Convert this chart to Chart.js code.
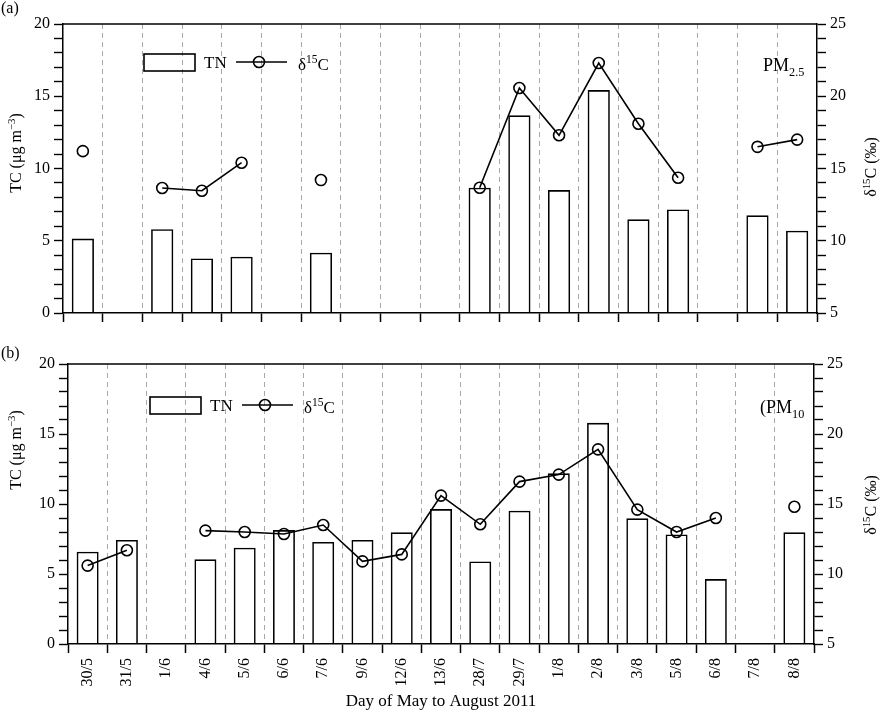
<!DOCTYPE html>
<html>
<head>
<meta charset="utf-8">
<script src="https://cdn.jsdelivr.net/npm/chart.js@4.4.0/dist/chart.umd.min.js"></script>
<style>
  html, body { margin: 0; padding: 0; background: #fff; }
  #wrap { width: 880px; height: 712px; position: relative; }
  .panel { position: absolute; left: 0; width: 880px; }
  #pa { top: 0; height: 336px; }
  #pb { top: 336px; height: 376px; }
</style>
</head>
<body>
<div id="wrap">
  <div class="panel" id="pa"><canvas id="chartA"></canvas></div>
  <div class="panel" id="pb"><canvas id="chartB"></canvas></div>
</div>
<script>
const days = ['30/5', '31/5', '1/6', '4/6', '5/6', '6/6', '7/6', '9/6', '12/6', '13/6',
  '28/7', '29/7', '1/8', '2/8', '3/8', '5/8', '6/8', '7/8', '8/8'];

// panel (a) PM2.5
const tnPM25 = [5.15, null, 5.8, 3.78, 3.9, null, 4.17, null, null, null,
  8.67, 13.68, 8.51, 15.43, 6.48, 7.17, null, 6.76, 5.7];
const d15cPM25 = [16.2, null, 13.65, 13.46, 15.4, null, 14.2, null, null, null,
  13.67, 20.57, 17.3, 22.3, 18.1, 14.36, null, 16.5, 17.0];

// panel (b) PM10
const tnPM10 = [6.59, 7.43, null, 6.05, 6.88, 8.14, 7.29, 7.43, 7.98, 9.64,
  5.9, 9.52, 12.19, 15.8, 8.98, 7.83, 4.64, null, 7.98];
const d15cPM10 = [10.6, 11.7, null, 13.1, 13.0, 12.86, 13.5, 10.9, 11.4, 15.6,
  13.55, 16.6, 17.1, 18.9, 14.6, 13.0, 14.0, null, 14.8];

const tcTickLabels = [0, 5, 10, 15, 20];
const d15cTickLabels = [5, 10, 15, 20, 25];

const SERIF = '"Liberation Serif", "DejaVu Serif", serif';
Chart.defaults.font.family = SERIF;
Chart.defaults.color = '#000';

// parts: [text, mode] with mode 0 normal, 1 superscript, -1 subscript
function drawRich(ctx, parts, x, y, size, align) {
  const small = size * 0.68;
  let w = 0;
  parts.forEach(([t, m]) => {
    ctx.font = (m ? small : size) + 'px ' + SERIF;
    w += ctx.measureText(t).width;
  });
  let cx = align === 'center' ? x - w / 2 : x;
  parts.forEach(([t, m]) => {
    ctx.font = (m ? small : size) + 'px ' + SERIF;
    const dy = m === 1 ? -size * 0.4 : m === -1 ? size * 0.25 : 0;
    ctx.fillText(t, cx, y + dy);
    cx += ctx.measureText(t).width;
  });
}

const decoPlugin = {
  id: 'deco',
  afterDraw(chart, args, opts) {
    const ctx = chart.ctx;
    const area = chart.chartArea;
    const line = chart.data.datasets[0];
    const bar = chart.data.datasets[1];
    ctx.save();
    ctx.textBaseline = 'alphabetic';
    ctx.textAlign = 'left';
    ctx.fillStyle = '#000';

    // top frame
    ctx.strokeStyle = '#000';
    ctx.lineWidth = 1.5;
    ctx.beginPath();
    ctx.moveTo(area.left, area.top);
    ctx.lineTo(area.right, area.top);
    ctx.stroke();

    // panel letter
    drawRich(ctx, [[opts.panel, 0]], 1, opts.panelY, 16, 'left');

    // axis titles, reading bottom to top
    ctx.save();
    ctx.translate(21, opts.leftTitleY);
    ctx.rotate(-Math.PI / 2);
    drawRich(ctx, [['TC (μg m', 0], ['−3', 1], [')', 0]], 0, 0, 16, 'center');
    ctx.restore();
    ctx.save();
    ctx.translate(876, opts.rightTitleY);
    ctx.rotate(-Math.PI / 2);
    drawRich(ctx, [['δ', 0], ['15', 1], ['C (‰)', 0]], 0, 0, 16, 'center');
    ctx.restore();

    // legend
    const lx = opts.legend.x, ly = opts.legend.y;
    ctx.lineWidth = bar.borderWidth;
    ctx.strokeStyle = bar.borderColor;
    ctx.strokeRect(lx, ly, 51, 17);
    drawRich(ctx, [[bar.label, 0]], lx + 60, ly + 14, 17, 'left');
    ctx.lineWidth = line.borderWidth;
    ctx.strokeStyle = line.borderColor;
    ctx.beginPath();
    ctx.moveTo(lx + 92, ly + 8);
    ctx.lineTo(lx + 143, ly + 8);
    ctx.stroke();
    ctx.beginPath();
    ctx.arc(lx + 115, ly + 8, line.pointRadius, 0, Math.PI * 2);
    ctx.stroke();
    drawRich(ctx, [['δ', 0], ['15', 1], ['C', 0]], lx + 154, ly + 16, 17, 'left');

    // size fraction label
    drawRich(ctx, opts.pm, opts.pmX, opts.pmY, 18, 'left');
    ctx.restore();
  }
};

function makePanel(canvasId, tn, d15c, cfg) {
  const xTicks = cfg.showLabels
    ? { autoSkip: false, maxRotation: 90, minRotation: 90, padding: 5, font: { size: 16 } }
    : { display: false };
  return new Chart(document.getElementById(canvasId), {
    type: 'bar',
    data: {
      labels: days,
      datasets: [
        {
          type: 'line',
          label: 'δ15C',
          data: d15c,
          yAxisID: 'y1',
          order: 0,
          borderColor: '#000',
          borderWidth: 1.6,
          pointRadius: 5.5,
          pointBorderWidth: 1.6,
          pointBackgroundColor: 'rgba(0,0,0,0)',
          pointBorderColor: '#000',
          spanGaps: false,
          tension: 0
        },
        {
          type: 'bar',
          label: 'TN',
          data: tn,
          yAxisID: 'y',
          order: 1,
          backgroundColor: 'rgba(255,255,255,0)',
          borderColor: '#000',
          borderWidth: 1.6,
          barPercentage: 0.56,
          categoryPercentage: 1
        }
      ]
    },
    options: {
      responsive: true,
      maintainAspectRatio: false,
      animation: false,
      layout: { padding: { top: cfg.top, left: 0, right: 0, bottom: 0 } },
      plugins: {
        legend: { display: false },
        tooltip: { enabled: false },
        deco: cfg.deco
      },
      scales: {
        x: {
          offset: true,
          grid: {
            offset: true,
            color: c => (c.index === undefined || c.index === 0) ? 'rgba(0,0,0,0)' : '#a8a8a8',
            lineWidth: 1,
            tickColor: '#000',
            tickWidth: 1.5,
            tickLength: 9
          },
          border: { dash: [5, 4], color: '#000', width: 1.5 },
          ticks: xTicks,
          title: cfg.showLabels
            ? { display: true, text: 'Day of May to August 2011', font: { size: 17 }, padding: { top: 0, bottom: 0 } }
            : { display: false },
          afterFit: s => { s.height = cfg.xH; s.paddingLeft = 0; s.paddingRight = 0; }
        },
        y: {
          position: 'left',
          min: 0,
          max: 20,
          ticks: {
            stepSize: 1,
            autoSkip: false,
            padding: 4,
            font: { size: 16 },
            callback: v => tcTickLabels.includes(v) ? String(v) : ''
          },
          grid: { drawOnChartArea: false, tickLength: 9, tickColor: '#000', tickWidth: 1.4 },
          border: { color: '#000', width: 1.5 },
          afterFit: s => { s.width = cfg.leftW; s.paddingTop = 0; s.paddingBottom = 0; }
        },
        y1: {
          position: 'right',
          min: 5,
          max: 25,
          ticks: {
            stepSize: 1,
            autoSkip: false,
            padding: 4,
            font: { size: 16 },
            callback: v => d15cTickLabels.includes(v) ? String(v) : ''
          },
          grid: { drawOnChartArea: false, tickLength: 9, tickColor: '#000', tickWidth: 1.4 },
          border: { color: '#000', width: 1.5 },
          afterFit: s => { s.width = cfg.rightW; s.paddingTop = 0; s.paddingBottom = 0; }
        }
      }
    },
    plugins: [decoPlugin]
  });
}

makePanel('chartA', tnPM25, d15cPM25, {
  top: 24, xH: 23, leftW: 63, rightW: 63, showLabels: false,
  deco: {
    panel: '(a)', panelY: 13,
    leftTitleY: 153, rightTitleY: 167,
    legend: { x: 144, y: 54 },
    pm: [['PM', 0], ['2.5', -1]], pmX: 763, pmY: 71
  }
});

makePanel('chartB', tnPM10, d15cPM10, {
  top: 28, xH: 68, leftW: 68, rightW: 66, showLabels: true,
  deco: {
    panel: '(b)', panelY: 22,
    leftTitleY: 114, rightTitleY: 169,
    legend: { x: 150, y: 61 },
    pm: [['(PM', 0], ['10', -1]], pmX: 760, pmY: 77
  }
});
</script>
</body>
</html>
